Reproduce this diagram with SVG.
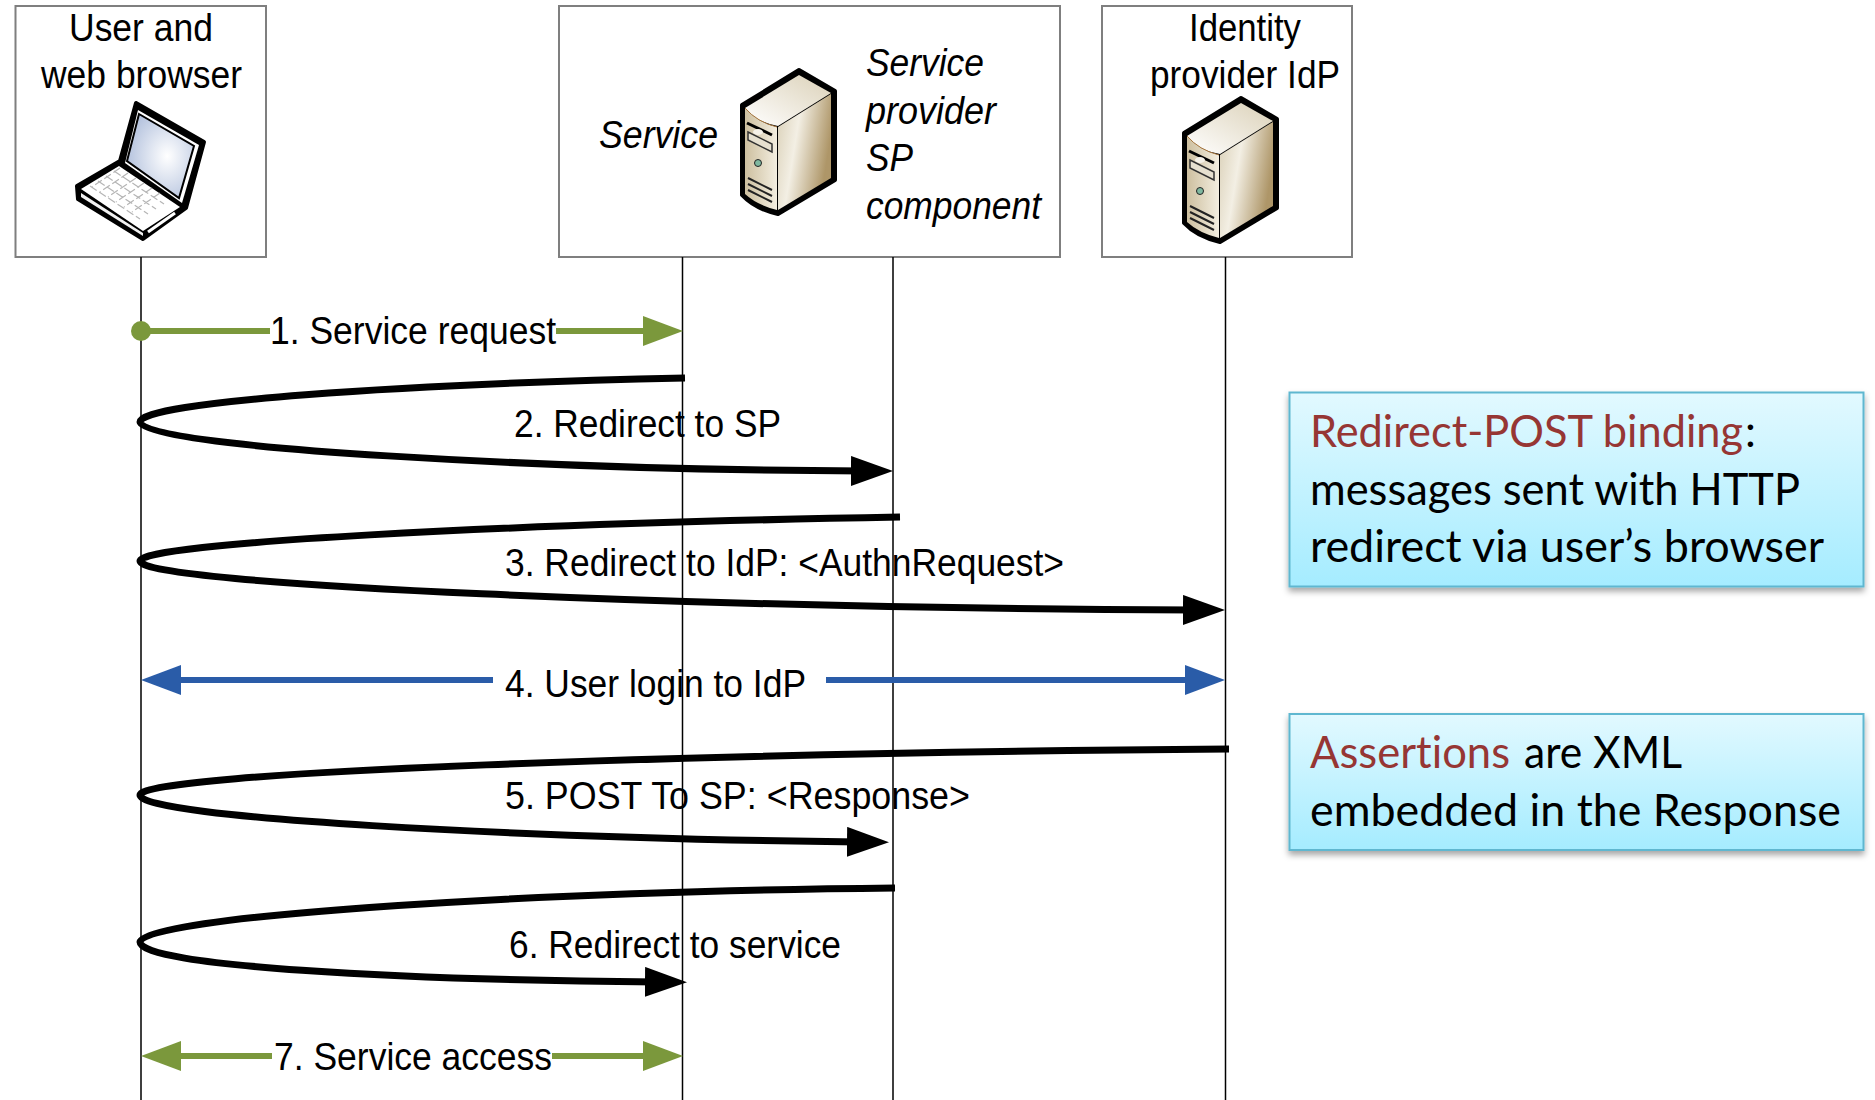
<svg xmlns="http://www.w3.org/2000/svg" width="1875" height="1100" viewBox="0 0 1875 1100">
<style>
.box{fill:#fff;stroke:#7f7f7f;stroke-width:2}
.t{font-family:"Liberation Sans",Arial,sans-serif;font-size:38px;fill:#000}
.i{font-style:italic}
.life{stroke:#000;stroke-width:1.5;fill:none}
.curve{stroke:#000;stroke-width:7;fill:none;stroke-linecap:butt}
.g{stroke:#7b983c;stroke-width:6;fill:none}
.b{stroke:#2a5ca8;stroke-width:6;fill:none}
.c{font-family:Lato,"Noto Sans",sans-serif;font-size:43.5px;fill:#000;font-variant-ligatures:none}
.r{fill:#963634}
.call{fill:url(#cg);stroke:#5fb7d0;stroke-width:2;filter:url(#sh)}
.ol{stroke:#000;stroke-width:4;stroke-linejoin:round}
</style>
<defs>
<linearGradient id="cg" x1="0" y1="0" x2="0" y2="1"><stop offset="0" stop-color="#e2f9ff"/><stop offset="1" stop-color="#a5ecff"/></linearGradient>
<linearGradient id="side" x1="0" y1="0" x2="1" y2="0.35"><stop offset="0" stop-color="#d9cfb6"/><stop offset="0.42" stop-color="#f3efe4"/><stop offset="1" stop-color="#ae9668"/></linearGradient>
<linearGradient id="front" x1="0" y1="0" x2="1" y2="0"><stop offset="0" stop-color="#cdbf9f"/><stop offset="1" stop-color="#f3eee0"/></linearGradient>
<linearGradient id="top" x1="0" y1="1" x2="1" y2="0"><stop offset="0" stop-color="#fff"/><stop offset="1" stop-color="#dbd1b8"/></linearGradient>
<radialGradient id="scr" cx="0.6" cy="0.5" r="0.6"><stop offset="0" stop-color="#fff"/><stop offset="1" stop-color="#b5c3de"/></radialGradient>
<filter id="sh" x="-5%" y="-5%" width="110%" height="115%"><feDropShadow dx="0" dy="4" stdDeviation="3" flood-color="#000" flood-opacity="0.35"/></filter>
<marker id="ak" markerUnits="userSpaceOnUse" markerWidth="42" markerHeight="30" refX="12" refY="15" orient="auto"><path d="M0 0L42 15L0 30Z" fill="#000"/></marker>
<marker id="ag" markerUnits="userSpaceOnUse" markerWidth="40" markerHeight="30" refX="10" refY="15" orient="auto"><path d="M0 0L40 15L0 30Z" fill="#7b983c"/></marker>
<marker id="ab" markerUnits="userSpaceOnUse" markerWidth="40" markerHeight="30" refX="10" refY="15" orient="auto"><path d="M0 0L40 15L0 30Z" fill="#2a5ca8"/></marker>
<g id="server">
<path d="M742 105L799 70L835 91V180L778 214Q755 209 742 195Z" fill="#000" stroke="#000" stroke-width="4" stroke-linejoin="round"/>
<path d="M745 108L799 75L831 93L778 126Q755 122 745 108Z" fill="url(#top)"/>
<path d="M778 127L831 94V178L778 210Z" fill="url(#side)"/>
<path d="M745 108Q757 122 777 127V210Q757 205 745 194Z" fill="url(#front)"/>
<path d="M745 108Q757 122 777 127" stroke="#a5743c" stroke-width="1" fill="none"/>
<path d="M747 123L772 135" stroke="#000" stroke-width="3"/>
<ellipse cx="758" cy="132" rx="5" ry="3" fill="#f5f1e8"/>
<path d="M748 132L772 144V152L748 140Z" fill="#e6e0d0" stroke="#333" stroke-width="1.5"/>
<circle cx="758" cy="163" r="3.5" fill="#7fb8a0" stroke="#222" stroke-width="1"/>
<path d="M748 178L772 190M748 184L772 196M748 190L772 202" stroke="#222" stroke-width="2"/>
</g>
</defs>
<rect width="1875" height="1100" fill="#fff"/>
<g id="node-user">
<rect class="box" x="15.500" y="6" width="250.500" height="251"/>
<text class="t" x="69" y="41" textLength="144" lengthAdjust="spacingAndGlyphs">User and</text>
<text class="t" x="41" y="88" textLength="201" lengthAdjust="spacingAndGlyphs">web browser</text>
<path d="M136 103L204 142L186 208L143 239L78 199L77 186L120 161Z" fill="#000" class="ol"/>
<path d="M138 110L199 145L182 203L125 163Z" fill="#fff"/>
<path d="M139 114L194 146L179 198L127 161Z" fill="url(#scr)" stroke="#000" stroke-width="2"/>
<path d="M119 166L180 207L143 231L81 189Z" fill="#fff"/>
<path d="M81 193L143 233V236L81 197Z" fill="#f2f2f2"/>
<path d="M148 232L175 213" stroke="#fff" stroke-width="3"/>
<g stroke="#b5b5b5" stroke-width="1.2" fill="none" stroke-dasharray="8 3">
<path d="M114 171L164 204M106 176L156 209M98 181L148 214M90 186L140 219M120 168L92 187M128 173L100 192M136 178L108 197M144 183L116 202M152 188L124 207M160 193L132 212"/>
</g>
</g>
<g id="node-sp">
<rect class="box" x="559" y="6" width="501" height="251"/>
<use href="#server"/>
<text class="t i" x="599" y="148" textLength="119" lengthAdjust="spacingAndGlyphs">Service</text>
<text class="t i" x="866" y="76" textLength="118" lengthAdjust="spacingAndGlyphs">Service</text>
<text class="t i" x="866" y="124" textLength="130" lengthAdjust="spacingAndGlyphs">provider</text>
<text class="t i" x="866" y="171" textLength="47" lengthAdjust="spacingAndGlyphs">SP</text>
<text class="t i" x="866" y="219" textLength="175" lengthAdjust="spacingAndGlyphs">component</text>
</g>
<g id="node-idp">
<rect class="box" x="1102" y="6" width="250" height="251"/>
<text class="t" x="1189" y="41" textLength="112" lengthAdjust="spacingAndGlyphs">Identity</text>
<text class="t" x="1150" y="88" textLength="190" lengthAdjust="spacingAndGlyphs">provider IdP</text>
<use href="#server" transform="translate(442 28)"/>
</g>
<g id="node-note1">
<rect class="call" x="1289.500" y="392.500" width="574" height="194"/>
<text class="c r" x="1310" y="447" textLength="433" lengthAdjust="spacingAndGlyphs">Redirect-POST binding</text>
<text class="c" x="1745" y="447">:</text>
<text class="c" x="1310" y="505" textLength="490" lengthAdjust="spacingAndGlyphs">messages sent with HTTP</text>
<text class="c" x="1310" y="562" textLength="514" lengthAdjust="spacingAndGlyphs">redirect via user’s browser</text>
</g>
<g id="node-note2">
<rect class="call" x="1289.500" y="714" width="574" height="136"/>
<text class="c r" x="1310" y="768" textLength="200" lengthAdjust="spacingAndGlyphs">Assertions</text>
<text class="c" x="1524" y="768" textLength="158" lengthAdjust="spacingAndGlyphs">are XML</text>
<text class="c" x="1310" y="826" textLength="531" lengthAdjust="spacingAndGlyphs">embedded in the Response</text>
</g>
<g id="connectors">
<path class="life" d="M141 257V1100M682.500 257V1100M893 257V1100M1225.500 257V1100"/>
<circle cx="141" cy="331" r="10" fill="#7b983c"/>
<path class="g" d="M141 331H270"/>
<path class="g" d="M556 331H653" marker-end="url(#ag)"/>
<path class="curve" d="M685 378C400 384 140 402 140 422C140 448 560 470 863 471" marker-end="url(#ak)"/>
<path class="curve" d="M900 517C500 524 140 543 140 561C140 585 700 608 1195 610" marker-end="url(#ak)"/>
<path class="b" d="M493 680H171" marker-end="url(#ab)"/>
<path class="b" d="M826 680H1195" marker-end="url(#ab)"/>
<path class="curve" d="M1229 749C700 753 140 772 140 795C140 818 520 838 859 842" marker-end="url(#ak)"/>
<path class="curve" d="M895 888C500 892 140 918 140 942C140 966 400 980 657 982" marker-end="url(#ak)"/>
<path class="g" d="M272 1056H171" marker-end="url(#ag)"/>
<path class="g" d="M552 1056H653" marker-end="url(#ag)"/>
</g>
<g id="labels">
<text class="t" x="270" y="344" textLength="286" lengthAdjust="spacingAndGlyphs">1. Service request</text>
<text class="t" x="514" y="437" textLength="267" lengthAdjust="spacingAndGlyphs">2. Redirect to SP</text>
<text class="t" x="505" y="576" textLength="559" lengthAdjust="spacingAndGlyphs">3. Redirect to IdP: &lt;AuthnRequest&gt;</text>
<text class="t" x="505" y="697" textLength="301" lengthAdjust="spacingAndGlyphs">4. User login to IdP</text>
<text class="t" x="505" y="809" textLength="465" lengthAdjust="spacingAndGlyphs">5. POST To SP: &lt;Response&gt;</text>
<text class="t" x="509" y="958" textLength="332" lengthAdjust="spacingAndGlyphs">6. Redirect to service</text>
<text class="t" x="274" y="1070" textLength="278" lengthAdjust="spacingAndGlyphs">7. Service access</text>
</g>
</svg>
